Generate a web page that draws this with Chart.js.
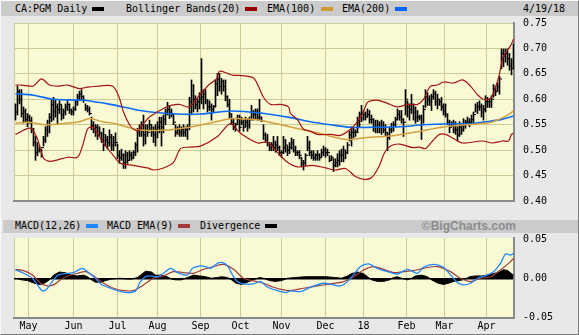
<!DOCTYPE html>
<html>
<head>
<meta charset="utf-8">
<script src="https://cdn.jsdelivr.net/npm/chart.js@4.4.1/dist/chart.umd.min.js"></script>
<style>
  html, body { margin: 0; padding: 0; }
  body {
    width: 579px; height: 335px; position: relative; overflow: hidden;
    background: #e8e8e8; color: #000;
    font-family: "DejaVu Sans Mono", monospace; font-size: 10px;
  }
  .frame {
    position: absolute; left: 0; top: 0; width: 577px; height: 333px;
    border: 1px solid; border-color: #fafafa #7c7c7c #7c7c7c #fafafa;
  }
  .head { position: absolute; background: #cbcbcb; }
  .t { position: absolute; white-space: pre; line-height: 16px; }
  .sw { position: absolute; width: 12px; height: 4px; }
  .brand {
    position: absolute; right: 63px; top: 218px; line-height: 16px;
    font-family: "Liberation Sans", Arial, sans-serif; font-weight: bold; font-size: 12px;
    color: #8c8c8c;
  }
  canvas { position: absolute; left: 0; }
</style>
</head>
<body>
<div class="frame"></div>

<div class="head" style="left:1px; top:1px; width:577px; height:15px;"></div>
<span class="t" style="left:15px; top:1px;">CA:PGM Daily</span>
<span class="sw" style="left:92px; top:7px; background:#000;"></span>
<span class="t" style="left:126px; top:1px;">Bollinger Bands(20)</span>
<span class="sw" style="left:245px; top:7px; background:#990000;"></span>
<span class="t" style="left:267px; top:1px;">EMA(100)</span>
<span class="sw" style="left:321px; top:7px; background:#cc9933;"></span>
<span class="t" style="left:342px; top:1px;">EMA(200)</span>
<span class="sw" style="left:395px; top:7px; background:#0066ff;"></span>
<span class="t" style="left:523px; top:1px;">4/19/18</span>

<div class="head" style="left:3px; top:220px; width:575px; height:13px;"></div>
<span class="t" style="left:15px; top:218px;">MACD(12,26)</span>
<span class="sw" style="left:86px; top:224px; background:#1e88ff;"></span>
<span class="t" style="left:107px; top:218px;">MACD EMA(9)</span>
<span class="sw" style="left:178px; top:224px; background:#a03c3c;"></span>
<span class="t" style="left:200px; top:218px;">Divergence</span>
<span class="sw" style="left:265px; top:224px; background:#000;"></span>
<span class="brand">©BigCharts.com</span>

<canvas id="priceChart" width="579" height="216" style="top:0;"></canvas>
<canvas id="macdChart" width="579" height="117" style="top:218px;"></canvas>

<script>
// month gridlines (trading-day index) and their labels
const monthPos = [6.5, 29, 51, 71, 92.5, 112.5, 133, 155, 174, 195.5, 214.5, 235.5];
const monthLabels = ['May', 'Jun', 'Jul', 'Aug', 'Sep', 'Oct', 'Nov', 'Dec', '18', 'Feb', 'Mar', 'Apr'];
const priceTicks = [0.40, 0.45, 0.50, 0.55, 0.60, 0.65, 0.70, 0.75];
const macdTicks = [-0.05, 0.00, 0.05];

// daily bars, 20 Apr 2017 .. 19 Apr 2018
const highs = [
  .591,.626,.619,.619,.585,.581,.572,.569,.565,.543, .527,.515,.508,.502,.527,.546,.559,.572,.600,.604,
  .600,.591,.597,.588,.581,.591,.597,.591,.581,.585, .597,.610,.616,.619,.607,.591,.588,.585,.565,.556,
  .550,.550,.546,.534,.543,.531,.527,.540,.531,.527, .534,.512,.499,.502,.493,.499,.496,.499,.496,.499,
  .515,.543,.550,.556,.569,.550,.550,.559,.550,.546, .550,.556,.565,.565,.569,.581,.594,.588,.581,.572,
  .550,.546,.550,.546,.550,.546,.550,.604,.638,.629, .607,.600,.613,.680,.619,.619,.600,.597,.591,.588,
  .638,.651,.651,.641,.638,.638,.607,.600,.572,.562, .553,.569,.569,.565,.559,.565,.562,.565,.588,.578,
  .581,.581,.600,.565,.550,.534,.531,.515,.515,.527, .518,.527,.508,.499,.527,.521,.508,.515,.524,.521,
  .508,.499,.499,.486,.480,.493,.527,.518,.499,.499, .493,.499,.493,.502,.508,.505,.502,.489,.489,.483,
  .483,.493,.499,.502,.508,.499,.515,.537,.546,.543, .540,.565,.575,.588,.578,.575,.581,.578,.569,.562,
  .559,.559,.556,.559,.556,.550,.534,.546,.553,.556, .565,.581,.578,.578,.562,.619,.597,.591,.610,.591,
  .585,.578,.569,.569,.588,.619,.613,.607,.610,.619, .616,.610,.600,.604,.591,.591,.572,.559,.556,.559,
  .556,.546,.556,.553,.562,.559,.565,.562,.569,.575, .591,.594,.597,.591,.588,.607,.604,.600,.607,.629,
  .626,.632,.645,.699,.699,.699,.699,.690,.680,.709
];
const lows = [
  .559,.569,.591,.565,.553,.556,.546,.553,.534,.508, .480,.489,.496,.486,.508,.515,.527,.534,.556,.559,
  .565,.550,.572,.559,.562,.569,.578,.572,.569,.569, .578,.588,.597,.600,.594,.578,.575,.569,.540,.534,
  .527,.521,.527,.515,.499,.508,.502,.508,.499,.499, .508,.483,.474,.480,.464,.464,.474,.480,.480,.483,
  .489,.496,.527,.527,.508,.512,.527,.540,.527,.515, .508,.524,.534,.508,.534,.550,.569,.562,.565,.550,
  .527,.531,.527,.527,.527,.527,.521,.540,.572,.575, .581,.575,.581,.591,.581,.591,.575,.578,.559,.575,
  .585,.607,.616,.610,.616,.597,.585,.562,.550,.540, .537,.550,.537,.550,.537,.546,.537,.543,.559,.559,
  .562,.559,.559,.556,.521,.515,.508,.499,.499,.499, .496,.499,.489,.486,.493,.496,.489,.493,.502,.496,
  .489,.489,.483,.467,.461,.470,.499,.489,.483,.480, .480,.480,.480,.486,.489,.486,.489,.477,.480,.458,
  .467,.467,.470,.477,.477,.483,.493,.518,.508,.524, .527,.534,.546,.556,.559,.559,.565,.553,.553,.537,
  .534,.534,.534,.531,.534,.527,.499,.521,.534,.537, .546,.559,.559,.553,.527,.569,.565,.559,.572,.559,
  .553,.556,.559,.521,.553,.584,.588,.588,.578,.600, .588,.581,.588,.578,.569,.565,.550,.534,.546,.534,
  .531,.518,.527,.531,.537,.543,.550,.546,.553,.553, .575,.572,.578,.565,.559,.575,.584,.584,.584,.604,
  .607,.616,.610,.660,.664,.673,.667,.657,.648,.660
];
const closes = [
  .575,.615,.600,.572,.575,.560,.565,.558,.540,.515, .495,.500,.500,.505,.520,.540,.550,.565,.590,.575,
  .585,.580,.590,.570,.575,.585,.590,.578,.575,.580, .595,.605,.610,.605,.598,.582,.580,.572,.548,.540,
  .545,.530,.535,.520,.510,.520,.515,.525,.510,.515, .515,.490,.485,.490,.475,.490,.480,.490,.485,.495,
  .510,.535,.540,.550,.530,.540,.535,.550,.535,.530, .540,.545,.555,.545,.560,.575,.580,.575,.570,.555,
  .535,.540,.535,.540,.535,.540,.545,.595,.590,.600, .590,.595,.600,.605,.610,.595,.585,.585,.580,.585,
  .630,.640,.625,.635,.625,.605,.590,.570,.555,.545, .550,.560,.545,.555,.545,.555,.550,.560,.575,.570,
  .575,.565,.565,.558,.530,.520,.515,.505,.510,.505, .510,.505,.495,.495,.505,.510,.500,.505,.515,.500,
  .495,.495,.490,.475,.475,.490,.505,.495,.490,.485, .490,.490,.485,.495,.500,.495,.495,.480,.485,.470,
  .475,.480,.490,.490,.500,.495,.510,.530,.535,.535, .535,.555,.570,.570,.570,.565,.570,.560,.560,.545,
  .545,.550,.545,.545,.540,.535,.525,.540,.545,.550, .560,.570,.565,.560,.555,.600,.585,.580,.590,.575,
  .565,.565,.565,.550,.580,.605,.600,.595,.605,.610, .595,.600,.595,.585,.575,.570,.555,.545,.550,.540,
  .540,.530,.545,.540,.550,.555,.555,.555,.560,.570, .585,.585,.585,.575,.580,.595,.595,.595,.600,.620,
  .615,.625,.640,.690,.685,.690,.680,.665,.660,.700
];

// overlays: [day index, value]
const bbUpper = [[0,.628],[3,.628],[7,.626],[9,.626],[13,.640],[17,.628],[21,.626],[26,.628],[32,.621],[36,.624],
  [42,.626],[48.5,.626],[51.8,.604],[54,.575],[57.7,.546],[61,.538],[64,.552],[67,.565],[73.5,.581],[77.7,.588],
  [82,.590],[86.8,.585],[91.8,.607],[96.8,.629],[100.5,.640],[102,.655],[106,.651],[109,.647],[112,.647],[119,.642],
  [121.5,.625],[124,.604],[127.5,.590],[132.5,.590],[136.5,.585],[137.5,.572],[141,.560],[144,.541],[147,.538],[151,.531],
  [157.5,.531],[162.5,.529],[167.5,.541],[171,.556],[173.5,.571],[176,.594],[179,.598],[181.5,.598],[186,.592],[191,.585],
  [196,.590],[201,.590],[204,.600],[207.5,.626],[211,.628],[214,.634],[219,.632],[223.5,.638],[227.5,.626],[231,.609],
  [234,.600],[237.5,.602],[239,.613],[241.5,.642],[244,.685],[247.5,.705],[249,.718]];
const bbLower = [[0,.531],[7.5,.543],[11,.522],[14,.484],[17.5,.478],[26,.486],[31,.486],[33.5,.508],[36,.541],[38.5,.546],
  [41,.533],[44,.514],[49,.489],[52.5,.474],[59,.470],[66,.465],[69,.461],[74,.465],[79,.476],[82.5,.503],
  [87.5,.506],[92.5,.508],[101,.527],[107.5,.552],[112.5,.533],[121,.514],[126,.516],[131,.495],[136,.476],[141,.467],
  [148.5,.470],[155,.465],[160,.461],[165,.464],[170,.448],[175,.442],[178.5,.448],[182,.470],[184.5,.495],[187.5,.508],
  [192,.512],[198.5,.505],[202,.506],[205,.503],[208.5,.518],[212,.531],[215,.531],[218.5,.524],[223.5,.514],[233.5,.518],
  [238.5,.514],[243.5,.518],[246.5,.518],[248,.531],[249,.533]];
const ema100 = [[0,.553],[7,.555],[15,.550],[25,.553],[32,.556],[37,.562],[43.5,.556],[50,.552],[61,.540],[73.5,.539],
  [87,.545],[100,.556],[108.5,.562],[116,.561],[123.5,.558],[137,.546],[150,.535],[165,.521],[173.5,.524],[190,.529],
  [199,.535],[215,.546],[232,.552],[238,.555],[242,.561],[246,.569],[249,.577]];
const ema200 = [[0,.611],[9,.608],[19,.600],[34,.598],[47.5,.590],[64,.577],[81,.571],[92.5,.571],[107.5,.577],[122.5,.573],
  [137.5,.564],[147.5,.556],[157.5,.550],[167.5,.545],[179,.545],[192.5,.546],[204,.550],[217.5,.552],[227.5,.552],[236,.556],
  [242.5,.560],[249,.567]];

const macdLine = [[0,.0107],[4,.0064],[8.5,0],[11,-.0085],[13.5,-.0162],[16,-.0128],[19,-.002],[21.5,.0043],[26,.0064],[29,.0073],
  [31.5,.0107],[33.5,.0128],[36,.0085],[40,0],[42.5,-.0073],[47.5,-.0128],[52.5,-.0171],[56,-.0184],[60,-.0162],[62.5,-.0043],
  [66,.003],[71,.002],[74,.0064],[77.5,.0128],[81,.0073],[86,.0043],[88.5,.0128],[92.5,.0158],[95,.015],[97.5,.0128],
  [101,.0192],[103.5,.0201],[106,.0158],[109,.002],[111,-.0043],[114,-.0073],[119,-.0073],[122.5,-.0043],[126,-.0115],[131,-.0158],
  [135,-.0184],[137.5,-.0162],[142.5,-.0171],[147.5,-.0115],[154,-.0064],[159,-.0085],[162.5,-.0098],[166,-.0043],[169,.0043],[172.5,.015],
  [176.5,.0184],[181,.0128],[186,.0085],[191,.0055],[196,.0115],[201,.0064],[204,.0141],[209,.0179],[214,.0141],[217.5,.0043],
  [221,-.0055],[224,-.0085],[227.5,-.0064],[231,0],[236,.0043],[239,.0085],[242.5,.0192],[245,.0312],[247.5,.0299],[249,.032]];
const macdSignal = [[0,.0115],[4,.0098],[8.5,.0043],[12.5,-.0064],[16,-.0098],[19,-.0085],[22.5,-.002],[26,.003],[31,.0064],[35,.0085],
  [39,.003],[44,-.0064],[49,-.0128],[54,-.0158],[59,-.0158],[64,-.0085],[69,0],[74,.003],[79,.0085],[84,.0073],
  [89,.0064],[94,.0115],[99,.015],[104,.0179],[109,.0115],[114,0],[119,-.0034],[124,-.0064],[129,-.0115],[134,-.015],
  [137.5,-.0158],[144,-.0128],[151,-.0098],[157.5,-.0073],[164,-.0043],[169,.002],[174,.0107],[179,.015],[184,.0115],[189,.0073],
  [194,.0085],[199,.0098],[204,.0128],[211,.015],[217.5,.0085],[222.5,0],[227.5,-.0043],[232.5,0],[237.5,.002],[242.5,.0107],
  [247.5,.0214],[249,.0256]];
const divergence = [[0,0],[3,-.002],[6,-.003],[9,-.006],[12,-.008],[14,-.007],[17,-.002],[19,.004],[22,.008],[25,.007],
  [28,.004],[31,.003],[34,.004],[36,.002],[38,-.002],[40,-.005],[43,-.005],[45,-.003],[48,-.001],[52,0],
  [56,-.001],[58,-.001],[61,.001],[63,.005],[65,.009],[68,.008],[70,.004],[73,.004],[75,.003],[78,-.001],
  [80,-.002],[83,-.002],[86,.001],[89,.004],[92,.003],[95,.002],[98,0],[101,.001],[103,.002],[106,.001],
  [108,-.002],[110,-.006],[113,-.008],[115,-.006],[118,-.003],[120,-.001],[122,.001],[124,0],[127,-.003],[130,-.004],
  [133,-.003],[136,0],[140,.001],[145,.002],[150,.002],[155,.002],[160,.001],[163,0],[166,.003],[168,.006],
  [171,.008],[174,.006],[176,.002],[178,-.002],[181,-.004],[184,-.004],[187,-.002],[189,.001],[191,.002],[193,0],
  [196,-.002],[198,0],[200,.003],[203,.004],[206,.002],[208,-.002],[211,-.006],[214,-.008],[217,-.006],[219,-.004],
  [222,-.003],[225,-.001],[227,.002],[230,.003],[233,.003],[236,.004],[239,.006],[242,.008],[244,.011],[246,.010],
  [248,.006],[249,.004]];

const MONO = '"DejaVu Sans Mono", monospace';
const GRID = '#cbcb98';
const EDGE = '#8a8a8a';

const toPoints = pairs => pairs.map(p => ({ x: p[0], y: p[1] }));

// pale yellow dithered plot background
function yellowPattern(ctx) {
  const c = document.createElement('canvas');
  c.width = 2; c.height = 2;
  const g = c.getContext('2d');
  g.fillStyle = '#ffffe2'; g.fillRect(0, 0, 2, 2);
  g.fillStyle = '#f3f3c6'; g.fillRect(0, 0, 1, 1); g.fillRect(1, 1, 1, 1);
  return ctx.createPattern(c, 'repeat');
}

const plotBg = {
  id: 'plotBg',
  beforeDraw(chart) {
    const { ctx, chartArea: a } = chart;
    ctx.save();
    ctx.fillStyle = yellowPattern(ctx);
    ctx.fillRect(a.left, a.top, a.right - a.left, a.bottom - a.top);
    ctx.restore();
  }
};

function xScale(showLabels, height) {
  return {
    type: 'linear', min: -0.75, max: 249.25, offset: false,
    afterBuildTicks: s => { s.ticks = [-0.75, ...monthPos].map(v => ({ value: v })); },
    afterFit: s => { s.height = height; },
    grid: { color: GRID, drawTicks: false, offset: false },
    border: { color: EDGE, width: 2 },
    ticks: {
      display: showLabels, autoSkip: false, maxRotation: 0, padding: 2, color: '#000',
      font: { family: MONO, size: 10 },
      callback: v => { const k = monthPos.indexOf(v); return k < 0 ? '' : monthLabels[k]; }
    }
  };
}

function lineSet(label, pairs, color, width, order) {
  return { type: 'line', label, data: toPoints(pairs), borderColor: color, borderWidth: width,
    pointRadius: 0, tension: 0.3, fill: false, order };
}

new Chart(document.getElementById('priceChart'), {
  type: 'bar',
  data: {
    datasets: [
      lineSet('Bollinger Upper', bbUpper, '#a51414', 1.2, 1),
      lineSet('Bollinger Lower', bbLower, '#a51414', 1.2, 1),
      lineSet('EMA(100)', ema100, '#d4a040', 1.5, 1),
      lineSet('EMA(200)', ema200, '#0a6cf5', 1.6, 1),
      { type: 'scatter', label: 'Close', data: closes.map((c, i) => ({ x: i + 0.5, y: c })),
        pointStyle: 'line', pointRadius: 1.5, borderColor: '#000', borderWidth: 1, order: 4 },
      { type: 'bar', label: 'CA:PGM Daily', data: highs.map((h, i) => ({ x: i, y: [lows[i], h] })),
        backgroundColor: '#000', barThickness: 1, order: 5 }
    ]
  },
  options: {
    responsive: false, animation: false, events: [],
    layout: { padding: { left: 14, top: 23, right: 0, bottom: 0 } },
    plugins: { legend: { display: false }, tooltip: { enabled: false } },
    scales: {
      x: xScale(false, 9),
      y: {
        position: 'right', min: 0.40, max: 0.75,
        afterBuildTicks: s => { s.ticks = priceTicks.map(v => ({ value: v })); },
        afterFit: s => { s.width = 65; },
        grid: { color: GRID, drawTicks: false },
        border: { color: EDGE, width: 2 },
        ticks: { padding: 9, color: '#000', font: { family: MONO, size: 10 }, callback: v => v.toFixed(2) }
      }
    }
  },
  plugins: [plotBg]
});

new Chart(document.getElementById('macdChart'), {
  type: 'line',
  data: {
    datasets: [
      lineSet('MACD(12,26)', macdLine, '#1e88ff', 1.3, 1),
      lineSet('MACD EMA(9)', macdSignal, '#a03c3c', 1.2, 2),
      { type: 'line', label: 'Divergence', data: toPoints(divergence), borderColor: '#000', borderWidth: 1,
        backgroundColor: '#000', fill: 'origin', pointRadius: 0, tension: 0, order: 3 }
    ]
  },
  options: {
    responsive: false, animation: false, events: [],
    layout: { padding: { left: 14, top: 20, right: 0, bottom: 0 } },
    plugins: { legend: { display: false }, tooltip: { enabled: false } },
    scales: {
      x: xScale(true, 17),
      y: {
        position: 'right', min: -0.051, max: 0.0517,
        afterBuildTicks: s => { s.ticks = macdTicks.map(v => ({ value: v })); },
        afterFit: s => { s.width = 65; },
        grid: { drawTicks: false, color: c => c.tick && c.tick.value === 0 ? '#000' : 'rgba(0,0,0,0)', lineWidth: 1.5 },
        border: { color: EDGE, width: 2 },
        ticks: { padding: 9, color: '#000', font: { family: MONO, size: 10 }, callback: v => v.toFixed(2) }
      }
    }
  },
  plugins: [plotBg]
});
</script>
</body>
</html>
